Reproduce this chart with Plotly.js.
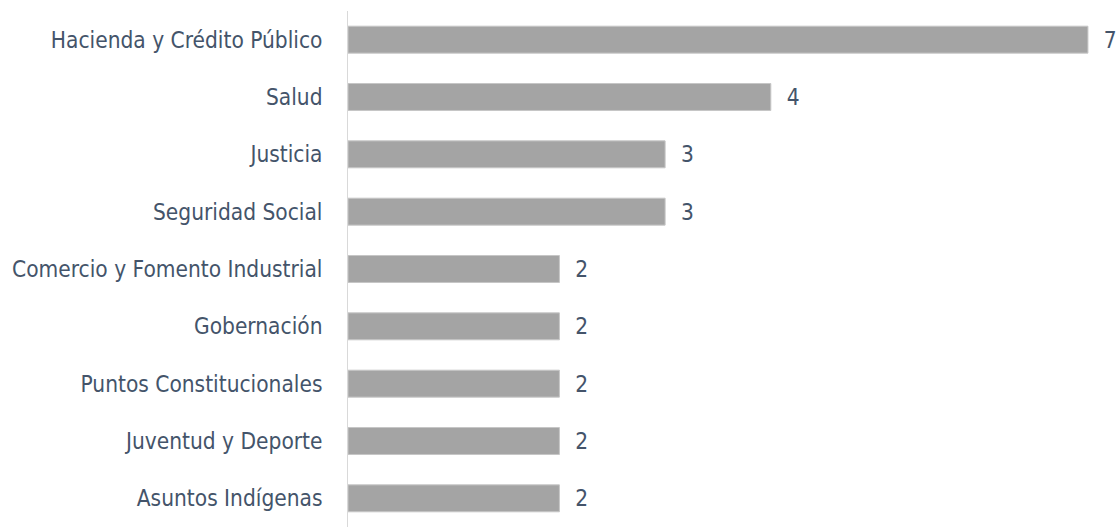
<!DOCTYPE html>
<html>
<head>
<meta charset="utf-8">
<script src="https://cdn.plot.ly/plotly-3.0.1.min.js"></script>
<style>html,body{margin:0;padding:0;background:#fff}#chart{width:1117px;height:527px}</style>
</head>
<body>
<div id="chart"></div>
<script>
const categories = [
  "Hacienda y Crédito Público",
  "Salud",
  "Justicia",
  "Seguridad Social",
  "Comercio y Fomento Industrial",
  "Gobernación",
  "Puntos Constitucionales",
  "Juventud y Deporte",
  "Asuntos Indígenas"
];
const values = [7, 4, 3, 3, 2, 2, 2, 2, 2];
const valueLabels = values.map(v => "\u00a0\u00a0" + String(v));

const labelFont = {family: "Liberation Sans Narrow, DejaVu Sans Condensed, sans-serif", size: 22.5, color: "#44546a"};

Plotly.newPlot("chart", [{
  type: "bar",
  orientation: "h",
  x: values,
  y: categories,
  text: valueLabels,
  textposition: "outside",
  cliponaxis: false,
  textfont: labelFont,
  width: 0.47,
  marker: {color: "#a4a4a4", line: {color: "#c6c6c6", width: 1}},
  hoverinfo: "none"
}], {
  width: 1117,
  height: 527,
  margin: {l: 348, r: 0, t: 11, b: 0},
  paper_bgcolor: "#ffffff",
  plot_bgcolor: "#ffffff",
  showlegend: false,
  xaxis: {range: [0, 7.275], visible: false, showgrid: false, zeroline: false},
  yaxis: {
    autorange: "reversed",
    showline: true,
    linecolor: "#d9d9d9",
    linewidth: 1,
    ticks: "",
    showgrid: false,
    zeroline: false,
    tickfont: labelFont,
    ticklabelstandoff: 20
  }
}, {displayModeBar: false, staticPlot: true});
</script>
</body>
</html>
